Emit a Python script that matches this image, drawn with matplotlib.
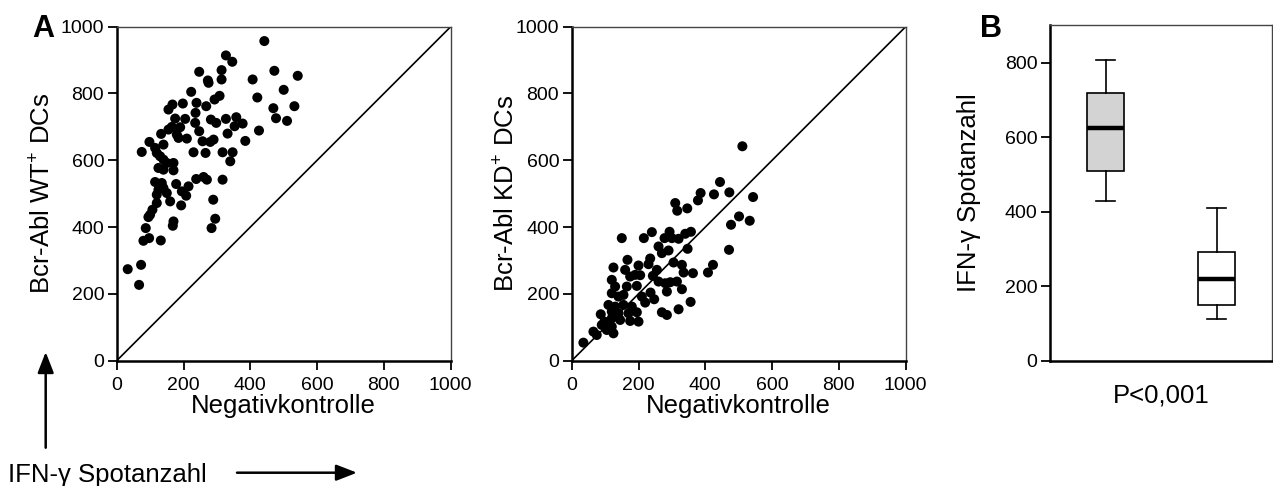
import numpy as np
import matplotlib
matplotlib.use("Agg")
import matplotlib.pyplot as plt

plt.rcParams['font.family'] = ['Liberation Sans', 'DejaVu Sans']
plt.rcParams['mathtext.fontset'] = 'custom'
plt.rcParams['mathtext.rm'] = 'Liberation Sans'

# Panel A, left: Negativkontrolle vs Bcr-Abl WT+ DCs
wt_x = [442, 327, 346, 247, 314, 472, 542, 407, 273, 275, 314, 500, 223, 308, 293,
        421, 198, 239, 167, 155, 268, 532, 469, 236, 175, 205, 477, 510, 282, 298,
        327, 358, 377, 353, 235, 426, 165, 155, 190, 247, 332, 133, 180, 185, 210,
        257, 290, 280, 385, 98, 140, 115, 120, 75, 230, 266, 317, 347, 340, 130,
        140, 150, 170, 125, 140, 170, 238, 260, 270, 317, 115, 135, 140, 125, 178,
        215, 195, 208, 120, 150, 160, 120, 289, 193, 107, 100, 95, 170, 168, 295,
        284, 87, 80, 97, 132, 73, 33, 67]
wt_y = [957, 914, 895, 865, 870, 868, 853, 842, 839, 832, 842, 811, 805, 793, 782,
        788, 770, 772, 767, 752, 762, 762, 756, 742, 725, 724, 726, 718, 722, 712,
        724, 729, 710, 702, 712, 689, 700, 692, 699, 687, 680, 679, 677, 667, 665,
        657, 662, 655, 658, 655, 647, 637, 622, 625, 624, 622, 624, 624, 597, 612,
        602, 592, 592, 577, 572, 570, 544, 550, 542, 542, 535, 532, 517, 512, 529,
        522, 507, 494, 497, 502, 477, 472, 482, 465, 452, 437, 430, 417, 404, 425,
        397, 397, 359, 367, 360, 287, 274, 227]

# Panel A, middle: Negativkontrolle vs Bcr-Abl KD+ DCs
kd_x = [511, 444, 386, 378, 426, 472, 543, 310, 316, 346, 501, 533, 477, 150, 240,
        216, 293, 278, 300, 320, 340, 357, 260, 270, 290, 347, 471, 235, 230, 167,
        200, 305, 330, 423, 408, 125, 160, 175, 190, 205, 255, 243, 260, 335, 363,
        120, 130, 280, 295, 315, 285, 330, 165, 195, 120, 140, 155, 210, 236, 247,
        220, 356, 110, 130, 155, 180, 320, 270, 285, 120, 140, 170, 195, 87, 120,
        145, 175, 200, 98, 90, 105, 125, 120, 65, 75, 35]
kd_y = [642, 535, 502, 480, 498, 504, 490, 472, 449, 456, 432, 419, 407, 367, 385,
        367, 386, 367, 367, 365, 380, 386, 342, 322, 330, 335, 332, 306, 289, 302,
        285, 294, 287, 287, 264, 279, 272, 252, 257, 256, 272, 254, 237, 264, 262,
        242, 222, 232, 235, 237, 207, 214, 222, 224, 202, 192, 197, 192, 204, 184,
        174, 176, 167, 162, 167, 162, 154, 145, 137, 147, 142, 142, 145, 139, 127,
        122, 119, 117, 117, 107, 92, 82, 102, 87, 77, 54]

# Panel B: box plot summaries (whisker low, Q1, median, Q3, whisker high)
box_labels = ['WT', 'KD']
box_whislo = [429, 112]
box_q1 = [510, 150]
box_med = [624, 218]
box_q3 = [718, 291]
box_whishi = [807, 411]
box_colors = ['#d3d3d3', 'white']

fig = plt.figure(figsize=(12.73, 4.86), dpi=100)
W, H = 1273, 486


def ax_px(left, top, right, bottom):
    return fig.add_axes([left / W, 1 - bottom / H, (right - left) / W, (bottom - top) / H])


def style_axes(ax):
    for s in ['left', 'bottom']:
        ax.spines[s].set_linewidth(1.8)
        ax.spines[s].set_color('black')
    for s in ['top', 'right']:
        ax.spines[s].set_linewidth(1.0)
        ax.spines[s].set_color('#444444')
    ax.tick_params(direction='out', length=6.3, width=1.3, labelsize=14,
                   top=False, right=False)
    ax.tick_params(axis='x', pad=5.3)
    ax.tick_params(axis='y', pad=2.7)


ax1 = ax_px(116.7, 26.7, 450.7, 360.7)
ax2 = ax_px(571.7, 26.7, 905.7, 360.7)
ax3 = ax_px(1050, 25.3, 1272, 360.7)

for ax, xs, ys, lab, lx in [(ax1, wt_x, wt_y, 'Bcr-Abl WT$^{+}$ DCs', -0.185),
                            (ax2, kd_x, kd_y, 'Bcr-Abl KD$^{+}$ DCs', -0.158)]:
    ax.plot([0, 1000], [0, 1000], color='black', lw=1.2, zorder=1)
    ax.scatter(xs, ys, s=52, color='black', edgecolors='none', zorder=3)
    ax.set_xlim(0, 1000)
    ax.set_ylim(0, 1000)
    ax.set_xticks(np.arange(0, 1001, 200))
    ax.set_yticks(np.arange(0, 1001, 200))
    style_axes(ax)
    ax.set_xlabel('Negativkontrolle', fontsize=18.5, labelpad=0)
    ax.set_ylabel(lab, fontsize=18.5)
    ax.yaxis.set_label_coords(lx, 0.5)

# box plot
stats = []
for i in range(len(box_labels)):
    stats.append(dict(label=box_labels[i], whislo=box_whislo[i], q1=box_q1[i],
                      med=box_med[i], q3=box_q3[i], whishi=box_whishi[i]))
bp = ax3.bxp(stats, positions=[1, 2], widths=0.33, showfliers=False, patch_artist=True,
             boxprops=dict(linewidth=1.2, edgecolor='black'),
             whiskerprops=dict(linewidth=1.2, color='black'),
             capprops=dict(linewidth=1.2, color='black'),
             medianprops=dict(linewidth=3.2, color='black', solid_capstyle='butt'))
for patch, c in zip(bp['boxes'], box_colors):
    patch.set_facecolor(c)
ax3.set_xlim(0.5, 2.5)
ax3.set_ylim(0, 900)
ax3.set_yticks(np.arange(0, 801, 200))
style_axes(ax3)
ax3.tick_params(axis='x', length=0, labelbottom=False)
ax3.set_xlabel('P<0,001', fontsize=18.5)
ax3.xaxis.set_label_coords(0.5, -0.068)
ax3.set_ylabel('IFN-γ Spotanzahl', fontsize=18.5)
ax3.yaxis.set_label_coords(-0.31, 0.5)

# panel letters
fig.text(32 / W, 1 - 37 / H, 'A', fontsize=22, fontweight='bold', va='baseline', ha='left')
fig.text(980 / W, 1 - 36.7 / H, 'B', fontsize=22, fontweight='bold', va='baseline', ha='left')

# axis legend arrows at bottom left
fig.text(8 / W, 1 - 481.7 / H, 'IFN-γ Spotanzahl', fontsize=18.5, va='baseline', ha='left')
arrow_kw = dict(arrowstyle='-|>,head_length=0.9,head_width=0.35', color='black', lw=1.8,
                shrinkA=0, shrinkB=0)
fig.add_artist(matplotlib.patches.FancyArrowPatch((45.7 / W, 1 - 447.7 / H), (45.7 / W, 1 - 352 / H),
                                                  transform=fig.transFigure, mutation_scale=14, **arrow_kw))
fig.add_artist(matplotlib.patches.FancyArrowPatch((237 / W, 1 - 472.7 / H), (357 / W, 1 - 472.7 / H),
                                                  transform=fig.transFigure, mutation_scale=14, **arrow_kw))

fig.savefig('out.png', dpi=100)
